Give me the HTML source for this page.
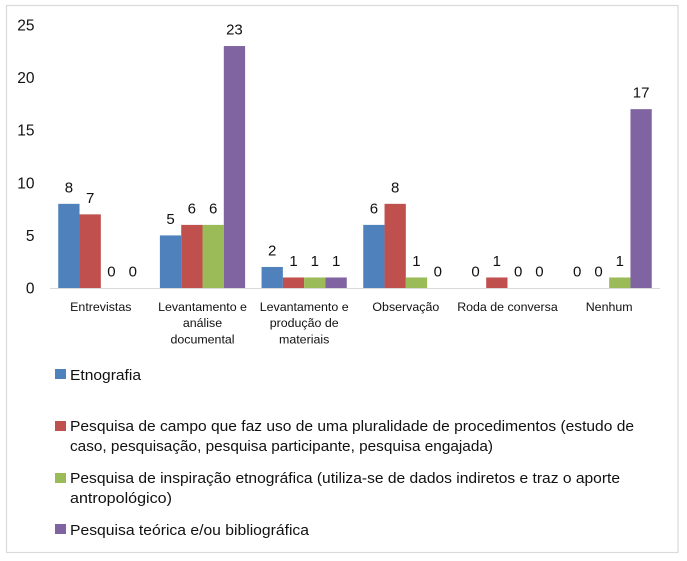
<!DOCTYPE html>
<html lang="pt">
<head>
<meta charset="utf-8">
<title>Gráfico de colunas</title>
<style>
html,body{margin:0;padding:0;background:#fff}
svg{display:block}
text{font-family:"Liberation Sans",sans-serif;fill:#111}
</style>
</head>
<body>
<svg id="chart" xmlns="http://www.w3.org/2000/svg" width="687" height="561" viewBox="0 0 687 561">
  <rect x="0" y="0" width="687" height="561" fill="#fff"/>
  <rect x="6.5" y="5.5" width="671.5" height="547" fill="#fff" stroke="#d9d9d9" stroke-width="1.2"/>
  <g id="plot"></g>
  <g font-size="14.5">
    <g>
      <rect x="55" y="369" width="11" height="10" fill="#4f81bd"/>
      <text x="70" y="380" textLength="71" lengthAdjust="spacingAndGlyphs">Etnografia</text>
    </g>
    <g>
      <rect x="55" y="421" width="11" height="10" fill="#c0504d"/>
      <text x="70" y="431" textLength="564" lengthAdjust="spacingAndGlyphs">Pesquisa de campo que faz uso de uma pluralidade de procedimentos (estudo de</text>
      <text x="70" y="451" textLength="423" lengthAdjust="spacingAndGlyphs">caso, pesquisação, pesquisa participante, pesquisa engajada)</text>
    </g>
    <g>
      <rect x="55" y="473" width="11" height="10" fill="#9bbb59"/>
      <text x="70" y="483" textLength="550" lengthAdjust="spacingAndGlyphs">Pesquisa de inspiração etnográfica (utiliza-se de dados indiretos e traz o aporte</text>
      <text x="70" y="503" textLength="102" lengthAdjust="spacingAndGlyphs">antropológico)</text>
    </g>
    <g>
      <rect x="55" y="524" width="11" height="10" fill="#8064a2"/>
      <text x="70" y="535" textLength="239" lengthAdjust="spacingAndGlyphs">Pesquisa teórica e/ou bibliográfica</text>
    </g>
  </g>
</svg>
<script>
const categories = [
  ["Entrevistas"],
  ["Levantamento e", "análise", "documental"],
  ["Levantamento e", "produção de", "materiais"],
  ["Observação"],
  ["Roda de conversa"],
  ["Nenhum"]
];
const etnografia = [8, 5, 2, 6, 0, 0];
const pesquisaCampo = [7, 6, 1, 8, 1, 0];
const inspiracaoEtnografica = [0, 6, 1, 1, 0, 1];
const pesquisaTeorica = [0, 23, 1, 0, 0, 17];
const yTicks = [0, 5, 10, 15, 20, 25];

const seriesList = [etnografia, pesquisaCampo, inspiracaoEtnografica, pesquisaTeorica];
const seriesKeys = ["etnografia", "pesquisa-de-campo", "inspiracao-etnografica", "pesquisa-teorica"];
const seriesColors = ["#4f81bd", "#c0504d", "#9bbb59", "#8064a2"];

const NS = "http://www.w3.org/2000/svg";
const plot = document.getElementById("plot");
const axisLeft = 50;
const axisRight = 660;
const axisBottom = 288;
const pxPerUnit = 10.52;
const catWidth = (axisRight - axisLeft) / categories.length;
const barWidth = 21.3;
const groupPad = (catWidth - barWidth * seriesList.length) / 2;

function yScale(v) { return axisBottom - v * pxPerUnit; }
function xCat(i) { return axisLeft + i * catWidth; }
function xBar(i, s) { return xCat(i) + groupPad + s * barWidth; }

function addText(parent, x, y, size, anchor, content) {
  const t = document.createElementNS(NS, "text");
  t.setAttribute("x", x);
  t.setAttribute("y", y);
  t.setAttribute("font-size", size);
  t.setAttribute("text-anchor", anchor);
  t.textContent = content;
  parent.appendChild(t);
  return t;
}

const axisLine = document.createElementNS(NS, "line");


axisLine.setAttribute("x1", axisLeft);
axisLine.setAttribute("x2", axisRight);
axisLine.setAttribute("y1", axisBottom + 0.5);
axisLine.setAttribute("y2", axisBottom + 0.5);
axisLine.setAttribute("stroke", "#d9d9d9");
axisLine.setAttribute("stroke-width", "1");
plot.appendChild(axisLine);

yTicks.forEach(function (tick) {
  const label = addText(plot, 34.5, yScale(tick) + 5.5, 15.5, "end", String(tick));
  
  
});

seriesList.forEach(function (values, s) {
  values.forEach(function (v, i) {
    const bar = document.createElementNS(NS, "rect");
    
    
    bar.setAttribute("x", xBar(i, s));
    bar.setAttribute("y", yScale(v));
    bar.setAttribute("width", barWidth);
    bar.setAttribute("height", axisBottom - yScale(v));
    bar.setAttribute("fill", seriesColors[s]);
    plot.appendChild(bar);

    const val = addText(plot, xBar(i, s) + barWidth / 2, yScale(v) - 11.5, 15, "middle", String(v));
    
    
  });
});

categories.forEach(function (lines, i) {
  lines.forEach(function (line, n) {
    const cat = addText(plot, xCat(i) + catWidth / 2, 311 + n * 16.2, 12.4, "middle", line);
    
    
  });
});
</script>
</body>
</html>
